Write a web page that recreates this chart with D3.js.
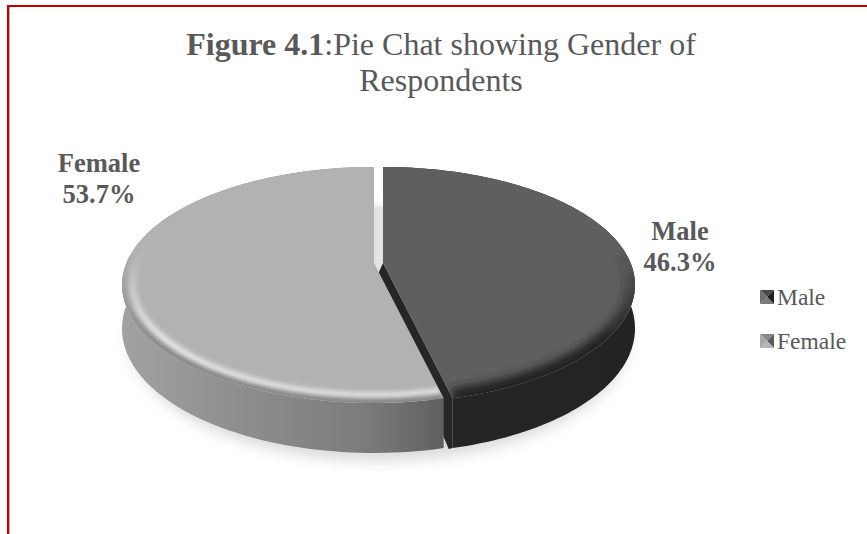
<!DOCTYPE html>
<html>
<head>
<meta charset="utf-8">
<script src="https://cdn.jsdelivr.net/npm/d3@7"></script>
<style>
  html, body { margin: 0; padding: 0; background: #fff; }
  svg { display: block; }
  text { font-family: "Liberation Serif", serif; fill: #595959; }
</style>
</head>
<body>
<div id="chart"></div>
<script>
const categories = ['Male', 'Female']
const percents = [46.3, 53.7]
const labels = ['46.3%', '53.7%']

const width = 867
const height = 534

const svg = d3.select('#chart')
  .append('svg')
    .attr('width', width)
    .attr('height', height)

const defs = svg.append('defs')

// red page border, only top and left are in the picture
svg.append('rect').attr('x', 7).attr('y', 5).attr('width', 860).attr('height', 2).attr('fill', '#c00000')
svg.append('rect').attr('x', 7).attr('y', 5).attr('width', 2).attr('height', 529).attr('fill', '#c00000')
svg.append('rect').attr('x', 9).attr('y', 7).attr('width', 1).attr('height', 527).attr('fill', '#f0a0a0')

// title
const title = svg.append('text')
  .attr('text-anchor', 'middle')
  .attr('font-size', 32)
const line1 = title.append('tspan').attr('x', 441).attr('y', 55)
line1.append('tspan').attr('font-weight', 'bold').text('Figure 4.1')
line1.append('tspan').text(':Pie Chat showing Gender of')
title.append('tspan').attr('x', 441).attr('y', 91).text('Respondents')

// perspective pie
const pie = d3.pie().sort(null).value(d => d)
const arcs = pie(percents)

const persp = 0.186
const xScale = d3.scaleLinear().domain([-1, 1]).range([-247.6, 247.6])
const yScale = d3.scaleLinear().domain([-1, 1]).range([113.9, -113.9])
const apexY = 263
const apexX = [383, 374]

function project(i, a, r = 1) {
  const s = Math.sin(a) * r
  const c = Math.cos(a) * r
  const w = 1 + persp * c
  return [apexX[i] + xScale(s / w), apexY + yScale(c / w)]
}

function depthOf(a) {
  return 42 - 8 * Math.cos(a)
}

function arcPoints(i, a0, a1, r = 1) {
  const n = 120
  return d3.range(n + 1).map(k => project(i, a0 + (a1 - a0) * k / n, r))
}

const line = d3.line()

function blur(id, dev) {
  defs.append('filter').attr('id', id)
    .attr('x', '-20%').attr('y', '-20%').attr('width', '140%').attr('height', '140%')
    .append('feGaussianBlur').attr('stdDeviation', dev)
}
blur('shadow', 7)
blur('soft', 4)
blur('edge', 2.5)

// soft floor shadow
const floor = d3.range(0, 2 * Math.PI + 0.01, 0.05).map(a => {
  const p = project(0, a)
  return [p[0] - 4 - 2 * Math.sin(a), p[1] + depthOf(a) + 8]
})
svg.append('path')
  .attr('d', line(floor) + 'Z')
  .attr('fill', '#bcbcbc')
  .attr('opacity', 0.55)
  .attr('filter', 'url(#shadow)')

// gradients for the outer walls
const sideColors = [
  [['0%', '#262626'], ['100%', '#232323']],
  [['0%', '#a2a2a2'], ['35%', '#8f8f8f'], ['75%', '#7c7c7c'], ['100%', '#5f5f5f']]
]
const sideBoxes = [[383, 635], [120, 445]]
sideColors.forEach((stops, i) => {
  const g = defs.append('linearGradient').attr('id', `side${i}`)
    .attr('gradientUnits', 'userSpaceOnUse')
    .attr('x1', sideBoxes[i][0]).attr('x2', sideBoxes[i][1])
    .attr('y1', 0).attr('y2', 0)
  stops.forEach(s => g.append('stop').attr('offset', s[0]).attr('stop-color', s[1]))
})

// rim shading fades out towards the back of the pie
function fadeGradient(id, color, peak) {
  const g = defs.append('linearGradient').attr('id', id)
    .attr('gradientUnits', 'userSpaceOnUse')
    .attr('x1', 0).attr('x2', 0).attr('y1', 250).attr('y2', 340)
  g.append('stop').attr('offset', '0%').attr('stop-color', color).attr('stop-opacity', 0)
  g.append('stop').attr('offset', '100%').attr('stop-color', color).attr('stop-opacity', peak)
}
fadeGradient('rimMale', '#242424', 1)
fadeGradient('rimFemale', '#868686', 1)
fadeGradient('shine', '#ffffff', 0.72)

const topColors = ['#5f5f5f', '#b2b2b2']

// back wall seen through the gap
const wallTop = project(0, 0, 0.54)
svg.append('path')
  .attr('d', line([[apexX[1], wallTop[1]], [apexX[0], wallTop[1]], [apexX[0], apexY + 24], [apexX[1], apexY]]) + 'Z')
  .attr('fill', '#e3e3e3')

// draw male first so the female cut edge sits on top of its dark face
arcs.forEach((d, i) => {
  const outer = arcPoints(i, d.startAngle, d.endAngle)
  const lower = d3.range(121).map(k => {
    const a = d.startAngle + (d.endAngle - d.startAngle) * k / 120
    const p = project(i, a)
    return [p[0], p[1] + depthOf(a)]
  }).reverse()

  // outer wall
  svg.append('path')
    .attr('d', line(outer.concat(lower)) + 'Z')
    .attr('fill', `url(#side${i})`)

  // dark cut face of the male slice
  if (i === 0) {
    const end = project(i, d.endAngle)
    const endDepth = depthOf(d.endAngle)
    const apex = [apexX[i], apexY]
    svg.append('path')
      .attr('d', line([
        apex,
        end,
        [end[0], end[1] + endDepth],
        [end[0] - 4, end[1] + endDepth + 1],
        [end[0] - 11, end[1] + endDepth - 16],
        [apex[0] - 9, apex[1] + 20]
      ]) + 'Z')
      .attr('fill', '#262626')
  }

  // top face
  const faceD = line([[apexX[i], apexY]].concat(outer)) + 'Z'
  svg.append('path')
    .attr('d', faceD)
    .attr('fill', topColors[i])

  defs.append('clipPath').attr('id', `face${i}`)
    .append('path').attr('d', faceD)

  // rounded bevel along the rim
  const rimGroup = svg.append('g').attr('clip-path', `url(#face${i})`)
  if (i === 1) {
    rimGroup.append('path')
      .attr('d', line(arcPoints(i, d.startAngle, d.endAngle, 0.96)))
      .attr('fill', 'none')
      .attr('stroke', 'url(#shine)')
      .attr('stroke-width', 7)
      .attr('filter', 'url(#edge)')
  }
  rimGroup.append('path')
    .attr('d', line(outer))
    .attr('fill', 'none')
    .attr('stroke', i === 0 ? 'url(#rimMale)' : 'url(#rimFemale)')
    .attr('stroke-width', i === 0 ? 20 : 9)
    .attr('filter', i === 0 ? 'url(#soft)' : 'url(#edge)')
})

// slice labels
const labelPos = [[680, 240], [99, 172]]
categories.forEach((c, i) => {
  const t = svg.append('text')
    .attr('text-anchor', 'middle')
    .attr('font-size', 26.5)
    .attr('font-weight', 'bold')
  t.append('tspan').attr('x', labelPos[i][0]).attr('y', labelPos[i][1]).text(c)
  t.append('tspan').attr('x', labelPos[i][0]).attr('y', labelPos[i][1] + 30.5).text(labels[i])
})

// legend with pyramid style keys
const legendY = d3.scalePoint().domain(categories).range([297, 341])
const keyShades = [
  { left: '#6e6e6e', top: '#4a4a4a', right: '#1f1f1f', bottom: '#7a7a7a' },
  { left: '#a8a8a8', top: '#8a8a8a', right: '#5c5c5c', bottom: '#b4b4b4' }
]
const keyX = 767
const keyR = 7
categories.forEach((c, i) => {
  const cy = legendY(c)
  const g = svg.append('g').attr('transform', `translate(${keyX},${cy})`)
  const corners = [[-keyR, -keyR], [keyR, -keyR], [keyR, keyR], [-keyR, keyR]]
  const sides = [
    [corners[0], corners[1], keyShades[i].top],
    [corners[1], corners[2], keyShades[i].right],
    [corners[2], corners[3], keyShades[i].bottom],
    [corners[3], corners[0], keyShades[i].left]
  ]
  sides.forEach(s => {
    g.append('path').attr('d', line([s[0], s[1], [0, 0]]) + 'Z').attr('fill', s[2])
  })
  svg.append('text')
    .attr('x', 777)
    .attr('y', cy + 8)
    .attr('font-size', 23.5)
    .text(c)
})
</script>
</body>
</html>
